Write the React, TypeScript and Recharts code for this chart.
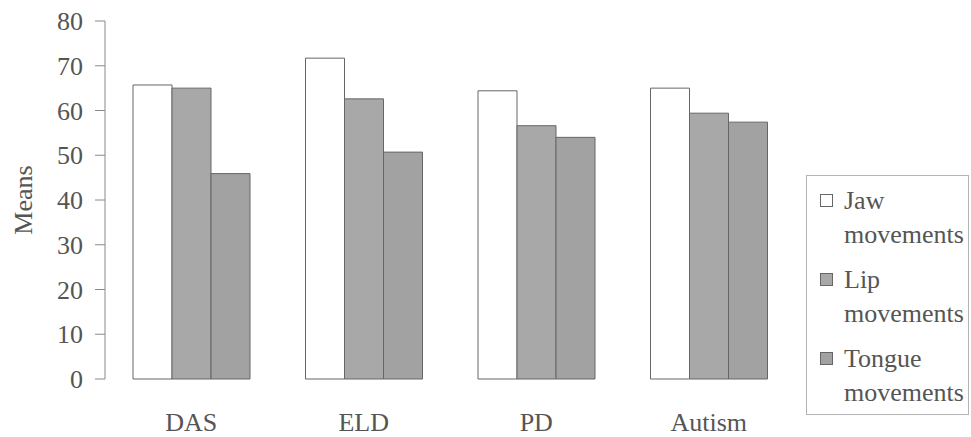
import { BarChart, Bar, XAxis, YAxis, Label } from "recharts";

const groups = ["DAS", "ELD", "PD", "Autism"];
const jawMeans = [65.7, 71.7, 64.4, 65.0];
const lipMeans = [65.0, 62.6, 56.6, 59.4];
const tongueMeans = [45.9, 50.7, 54.0, 57.4];
const yTicks = [0, 10, 20, 30, 40, 50, 60, 70, 80];
const groupEdges = [0, 1, 2, 3, 4];

const series = [
  { key: "jaw", lines: ["Jaw", "movements"], fill: "#ffffff" },
  { key: "lip", lines: ["Lip", "movements"], fill: "#a8a8a8" },
  { key: "tongue", lines: ["Tongue", "movements"], fill: "#a2a2a2" },
];

const rows = groups.map((group, i) => ({
  group,
  jaw: jawMeans[i],
  lip: lipMeans[i],
  tongue: tongueMeans[i],
}));

const FONT = "'Liberation Serif', 'Times New Roman', serif";
const TEXT = "#555";
const AXIS = "#8a8a8a";
const FRAME = "#c4c4c4";
const BAR_EDGE = "#666";

function SeriesKey() {
  return (
    <div
      style={{
        position: "absolute",
        left: 806,
        top: 175,
        width: 163,
        height: 240,
        boxSizing: "border-box",
        border: "1px solid #b4b4b4",
        paddingTop: 8,
        fontFamily: FONT,
        fontSize: 26,
        color: TEXT,
      }}
    >
      {series.map((s) => (
        <div key={s.key} style={{ position: "relative", marginBottom: 11 }}>
          <span
            style={{
              position: "absolute",
              left: 13,
              top: 10,
              width: 13,
              height: 13,
              boxSizing: "border-box",
              border: `1px solid ${BAR_EDGE}`,
              background: s.fill,
            }}
          />
          {s.lines.map((line) => (
            <div key={line} style={{ paddingLeft: 37, lineHeight: "34px", whiteSpace: "nowrap" }}>
              {line}
            </div>
          ))}
        </div>
      ))}
    </div>
  );
}

export default function App() {
  return (
    <div
      style={{
        position: "absolute",
        left: 0,
        top: 0,
        width: 971,
        height: 437,
        background: "#fff",
      }}
    >
      <BarChart
        width={971}
        height={437}
        data={rows}
        margin={{ top: 21, right: 176, bottom: 0, left: 0 }}
        barCategoryGap={28}
        barGap={0}
      >
        {/* plot frame: light top and right edges */}
        <XAxis
          xAxisId="top"
          orientation="top"
          dataKey="group"
          height={0}
          tick={false}
          tickLine={false}
          axisLine={{ stroke: FRAME }}
        />
        <YAxis
          yAxisId="right"
          orientation="right"
          width={0}
          domain={[0, 80]}
          tick={false}
          tickLine={false}
          axisLine={{ stroke: FRAME }}
        />
        {/* baseline with tick marks between the groups */}
        <XAxis
          xAxisId="edges"
          type="number"
          domain={[0, 4]}
          ticks={groupEdges}
          height={0}
          tick={false}
          tickSize={8}
          tickLine={{ stroke: AXIS }}
          axisLine={{ stroke: AXIS }}
        />
        <XAxis
          xAxisId="cat"
          dataKey="group"
          height={58}
          axisLine={false}
          tickLine={false}
          tickSize={0}
          tickMargin={34}
          tick={{ fontSize: 26, fontFamily: FONT, fill: TEXT }}
        />
        <YAxis
          yAxisId="left"
          width={105}
          domain={[0, 80]}
          ticks={yTicks}
          interval={0}
          tickSize={10}
          tickMargin={12}
          axisLine={{ stroke: AXIS }}
          tickLine={{ stroke: AXIS }}
          tick={{ fontSize: 26, fontFamily: FONT, fill: TEXT }}
        >
          <Label
            value="Means"
            angle={-90}
            position="insideLeft"
            offset={23}
            style={{ fontSize: 26, fontFamily: FONT, fill: TEXT, textAnchor: "middle" }}
          />
        </YAxis>
        {series.map((s) => (
          <Bar
            key={s.key}
            dataKey={s.key}
            xAxisId="cat"
            yAxisId="left"
            fill={s.fill}
            stroke={BAR_EDGE}
            strokeWidth={1}
            isAnimationActive={false}
          />
        ))}
      </BarChart>
      <SeriesKey />
    </div>
  );
}
